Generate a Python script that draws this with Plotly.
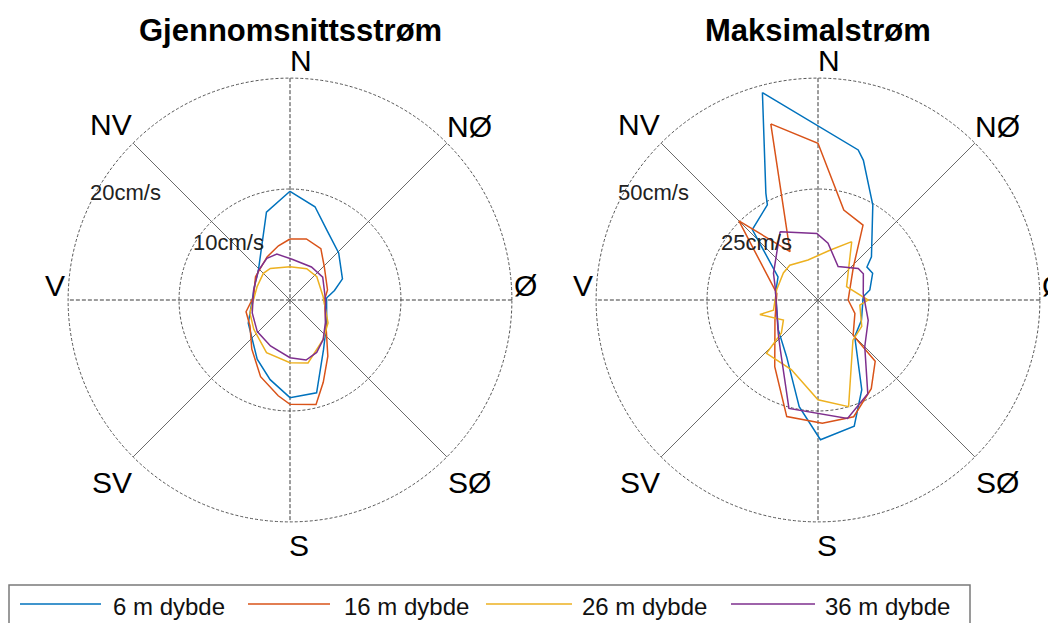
import plotly.graph_objects as go

# The page body has an 8px default margin, so the figure is sized to fit the
# 1056x623 window and all screen positions are shifted by that margin.
SCREEN_W, SCREEN_H = 1056, 623
OFF = 8
W, H = SCREEN_W - OFF, SCREEN_H - OFF

# ---------------- data ----------------
directions = ["N", "NØ", "Ø", "SØ", "S", "SV", "V", "NV"]
direction_angles = [0, 45, 90, 135, 180, 225, 270, 315]
series_names = ["6 m dybde", "16 m dybde", "26 m dybde", "36 m dybde"]
series_colors = ["#0072BD", "#D95319", "#EDB120", "#7E2F8E"]
panel_titles = ["Gjennomsnittsstrøm", "Maksimalstrøm"]
rings_mean = [10, 20]
rings_max = [25, 50]
ring_labels_mean = ["10cm/s", "20cm/s"]
ring_labels_max = ["25cm/s", "50cm/s"]

# Gjennomsnittsstrøm (cm/s) - direction (deg, compass) and speed
mean_6_theta = [0, 15, 28, 46, 68, 78, 87, 122, 146, 164, 180, 194, 209, 241, 270, 296, 313, 345]
mean_6_r = [9.8, 8.7, 7.1, 6.1, 5.1, 4.1, 3.3, 3.9, 5.4, 8.7, 8.8, 7.4, 6.1, 4.3, 3.4, 3.5, 3.9, 8.2]
mean_16_theta = [0, 15, 31, 46, 75, 90, 129, 146, 158, 166, 180, 187, 201, 218, 237, 255, 275, 304, 332, 348]
mean_16_r = [5.5, 5.7, 5.4, 4.3, 3.5, 3.1, 4.2, 6.1, 8.0, 9.7, 9.4, 8.7, 7.4, 5.6, 4.3, 4.1, 3.3, 3.75, 4.4, 5.0]
mean_26_theta = [0, 28, 49, 84, 121, 140, 164, 180, 204, 231, 252, 279, 292, 315, 328]
mean_26_r = [3.0, 3.2, 3.2, 3.0, 4.0, 4.65, 5.9, 5.65, 5.2, 4.2, 3.8, 3.2, 3.2, 3.4, 3.35]
mean_36_theta = [2, 33, 55, 90, 123, 140, 153, 165, 180, 203, 226, 251, 285, 313, 331, 344]
mean_36_r = [3.7, 3.55, 3.6, 3.2, 3.8, 4.65, 5.3, 5.6, 5.2, 4.5, 4.1, 3.6, 3.4, 3.9, 4.3, 4.3]

# Maksimalstrøm (cm/s)
max_6_theta = [345, 15, 18, 30, 51, 56, 64, 79, 86, 115, 135, 154, 164, 179, 190, 209, 233, 280, 300, 317, 332, 334]
max_6_r = [48.4, 35.0, 33.1, 24.7, 15.5, 13.3, 13.7, 11.9, 10.2, 10.8, 11.7, 22.5, 29.6, 31.5, 24.4, 14.6, 11.2, 9.7, 10.4, 21.7, 24.3, 26.8]
max_16_theta = [345, 0, 16, 31, 47, 90, 110, 135, 137, 149, 163, 178, 195, 213, 245, 279, 315, 330]
max_16_r = [41.1, 35.3, 21.1, 19.7, 10.9, 6.8, 8.85, 11.2, 18.9, 23.3, 27.5, 27.8, 27.2, 17.9, 10.7, 9.4, 25.2, 12.6]
max_26_theta = [30, 65, 90, 97, 121, 139, 164, 180, 201, 224, 228, 240, 256, 257, 284, 308, 321, 346, 14]
max_26_r = [15.2, 7.1, 11.3, 9.5, 11.5, 12.0, 25.0, 22.5, 16.8, 16.7, 11.1, 9.0, 13.5, 10.3, 9.6, 9.9, 10.1, 9.3, 11.6]
max_36_theta = [331, 359, 10, 31, 52, 60, 82, 112, 135, 152, 166, 195, 217, 230, 287, 301]
max_36_r = [17.6, 15.0, 13.0, 8.8, 11.5, 11.8, 10.3, 12.2, 14.9, 23.9, 27.5, 25.3, 14.1, 11.7, 10.1, 11.7]

mean_series = [(mean_6_theta, mean_6_r), (mean_16_theta, mean_16_r),
               (mean_26_theta, mean_26_r), (mean_36_theta, mean_36_r)]
max_series = [(max_6_theta, max_6_r), (max_16_theta, max_16_r),
              (max_26_theta, max_26_r), (max_36_theta, max_36_r)]

# ---------------- layout helpers ----------------
FONT = "Liberation Sans, Arial, Helvetica, sans-serif"
R_PX = 223
centers = [(290, 300), (818, 300)]   # screen pixels


def px(x):
    return (x - OFF) / W


def py(y):
    return 1 - (y - OFF) / H


fig = go.Figure()

panels = [
    ("polar", mean_series, rings_mean, ring_labels_mean),
    ("polar2", max_series, rings_max, ring_labels_max),
]

for subplot, series, rings, _ in panels:
    rmax = rings[-1]
    # spokes
    for a in direction_angles[:4]:
        cardinal = a % 90 == 0
        fig.add_trace(go.Scatterpolar(
            r=[rmax, 0, rmax], theta=[a, a, a + 180], mode="lines",
            line=dict(color="#3a3a3a" if cardinal else "#6a6a6a", width=1,
                      dash="4px,2px" if cardinal else "solid"),
            subplot=subplot, showlegend=False, hoverinfo="skip"))
    for (th, rr), name, col in zip(series, series_names, series_colors):
        fig.add_trace(go.Scatterpolar(
            r=list(rr) + [rr[0]], theta=list(th) + [th[0]], mode="lines",
            name=name, line=dict(color=col, width=1.5),
            subplot=subplot, showlegend=False))


def polar_layout(cx, cy, rings):
    return dict(
        domain=dict(x=[px(cx - R_PX), px(cx + R_PX)],
                    y=[py(cy + R_PX), py(cy - R_PX)]),
        bgcolor="rgba(0,0,0,0)",
        radialaxis=dict(range=[0, rings[-1] * 1.005], tickvals=rings,
                        showticklabels=False, ticks="", showline=False,
                        gridcolor="#555555", griddash="3px,2px", gridwidth=1),
        angularaxis=dict(rotation=90, direction="clockwise", showgrid=False,
                         showline=False, showticklabels=False, ticks=""),
    )


annotations = []
label_offsets = [(11, -240), (179, -173), (235, -15), (179, 182),
                 (9, 245), (-178, 182), (-235, -15), (-179, -175)]
ring_label_offsets = [(-62, -58), (-165, -107)]

for (cx, cy), title, (_, _, rings, rlabels) in zip(centers, panel_titles, panels):
    annotations.append(dict(x=px(cx), y=py(31), xref="paper", yref="paper",
                            text="<b>%s</b>" % title, showarrow=False,
                            xanchor="center", yanchor="middle",
                            font=dict(family=FONT, size=31, color="black")))
    for lab, (dx, dy) in zip(directions, label_offsets):
        annotations.append(dict(x=px(cx + dx), y=py(cy + dy), xref="paper", yref="paper",
                                text=lab, showarrow=False, xanchor="center", yanchor="middle",
                                font=dict(family=FONT, size=30, color="black")))
    for lab, (dx, dy) in zip(rlabels, ring_label_offsets):
        annotations.append(dict(x=px(cx + dx), y=py(cy + dy), xref="paper", yref="paper",
                                text=lab, showarrow=False, xanchor="center", yanchor="middle",
                                font=dict(family=FONT, size=22, color="#222222")))

# legend box (drawn manually to match the long line samples of the original)
shapes = [dict(type="rect", xref="paper", yref="paper",
               x0=px(9), x1=px(970), y0=py(640), y1=py(585),
               line=dict(color="#7a7a7a", width=1.5), fillcolor="white", layer="below")]
legend_line_x = [(20, 101), (248, 330), (486, 572), (731, 815)]
legend_text_x = [111, 342, 580, 823]
for name, col, (x0, x1), tx in zip(series_names, series_colors, legend_line_x, legend_text_x):
    shapes.append(dict(type="line", xref="paper", yref="paper",
                       x0=px(x0), x1=px(x1), y0=py(604), y1=py(604),
                       line=dict(color=col, width=1.5)))
    annotations.append(dict(x=px(tx), y=py(606), xref="paper", yref="paper",
                            text=name, showarrow=False, xanchor="left", yanchor="middle",
                            font=dict(family=FONT, size=24, color="#111111")))

fig.update_layout(
    width=W, height=H,
    margin=dict(l=0, r=0, t=0, b=0),
    paper_bgcolor="white", plot_bgcolor="white",
    polar=polar_layout(centers[0][0], centers[0][1], rings_mean),
    polar2=polar_layout(centers[1][0], centers[1][1], rings_max),
    annotations=annotations, shapes=shapes, showlegend=False,
)

fig.write_html("out.html")
